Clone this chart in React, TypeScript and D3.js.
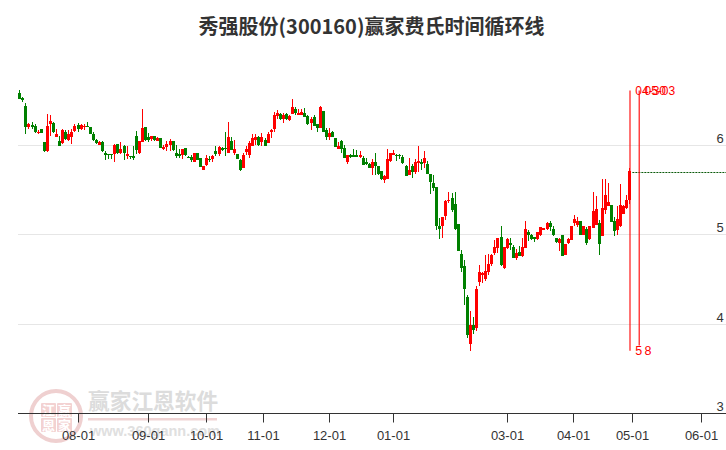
import * as d3 from "d3";

const W = 726;
const H = 450;

const TITLE = "秀强股份(300160)赢家费氏时间循环线";

const opens = [
  6.58, 6.53, 6.44, 6.2, 6.22, 6.21, 6.13, 6.18, 6.03, 5.93,
  6.24, 6.25, 6.09, 6.04, 6.02, 6.14, 6.06, 6.09, 6.16, 6.22,
  6.18, 6.2, 6.21, 6.2, 6.12, 6.06, 6.0, 6.03, 5.91, 5.9,
  5.9, 5.9, 6.01, 5.91, 5.99, 5.88, 5.88, 5.88, 6.1, 5.91,
  6.03, 6.2, 6.09, 6.07, 6.1, 6.05, 6.08, 5.96, 5.98, 6.0,
  6.04, 5.91, 5.9, 5.89, 5.97, 5.87, 5.87, 5.81, 5.91, 5.86,
  5.72, 5.78, 5.84, 5.84, 5.93, 5.9, 5.97, 5.97, 5.91, 6.05,
  5.91, 5.9, 5.83, 5.74, 5.92, 5.89, 5.99, 6.06, 6.09, 6.03,
  6.06, 6.02, 6.14, 6.18, 6.32, 6.35, 6.29, 6.35, 6.28, 6.35,
  6.4, 6.33, 6.33, 6.36, 6.32, 6.25, 6.31, 6.24, 6.19, 6.38,
  6.17, 6.09, 6.14, 6.08, 5.95, 6.04, 5.97, 5.81, 5.89, 5.89,
  5.89, 5.87, 5.86, 5.81, 5.79, 5.74, 5.81, 5.76, 5.71, 5.61,
  5.62, 5.82, 5.89, 5.89, 5.89, 5.87, 5.77, 5.66, 5.77, 5.7,
  5.8, 5.81, 5.8, 5.79, 5.68, 5.58, 5.53, 5.1, 5.1, 5.21,
  5.37, 5.41, 5.34, 5.12, 4.78, 4.65, 4.3, 3.78, 3.99, 3.96,
  4.47, 4.55, 4.5, 4.58, 4.67, 4.79, 4.85, 4.97, 4.63, 4.85,
  4.91, 4.86, 4.74, 4.81, 4.76, 4.85, 5.03, 5.0, 4.97, 4.95,
  4.99, 5.05, 5.06, 5.13, 5.06, 4.96, 4.91, 4.99, 4.77, 4.9,
  4.94, 5.13, 5.11, 5.15, 5.0, 5.06, 4.95, 5.07, 5.11, 5.13,
  4.98, 5.27, 5.32, 5.33, 5.15, 5.05, 5.09, 5.23, 5.3, 5.38,
];

const closes = [
  6.51, 6.5, 6.2, 6.23, 6.2, 6.14, 6.15, 6.13, 5.93, 6.21,
  6.27, 6.14, 6.12, 5.99, 6.17, 6.07, 6.12, 6.14, 6.21, 6.18,
  6.22, 6.21, 6.2, 6.12, 6.06, 6.02, 6.03, 5.93, 5.89, 5.89,
  5.89, 6.0, 5.91, 5.96, 5.91, 5.9, 5.87, 5.85, 5.94, 6.05,
  6.19, 6.06, 6.06, 6.1, 6.06, 6.08, 5.97, 5.98, 6.01, 6.04,
  5.94, 5.88, 5.88, 5.95, 5.89, 5.86, 5.83, 5.91, 5.83, 5.75,
  5.77, 5.86, 5.83, 5.88, 5.9, 5.98, 5.94, 5.96, 6.09, 5.94,
  5.96, 5.84, 5.72, 5.89, 5.95, 6.02, 6.08, 6.09, 6.0, 6.09,
  5.99, 6.12, 6.17, 6.34, 6.36, 6.29, 6.34, 6.29, 6.32, 6.42,
  6.36, 6.36, 6.37, 6.31, 6.23, 6.29, 6.21, 6.19, 6.43, 6.15,
  6.09, 6.13, 6.09, 5.98, 5.99, 5.95, 5.85, 5.89, 5.87, 5.87,
  5.87, 5.89, 5.78, 5.79, 5.74, 5.81, 5.76, 5.68, 5.62, 5.65,
  5.84, 5.91, 5.91, 5.88, 5.88, 5.8, 5.65, 5.72, 5.7, 5.81,
  5.82, 5.79, 5.85, 5.68, 5.59, 5.52, 5.1, 5.06, 5.19, 5.37,
  5.39, 5.27, 5.06, 4.82, 4.63, 4.39, 3.88, 3.99, 3.93, 4.39,
  4.58, 4.57, 4.59, 4.67, 4.77, 4.86, 4.96, 4.66, 4.86, 4.95,
  4.88, 4.74, 4.79, 4.76, 4.86, 5.06, 5.0, 4.95, 4.95, 5.03,
  5.08, 5.07, 5.13, 5.08, 4.99, 4.92, 4.95, 4.76, 4.89, 4.95,
  5.1, 5.17, 5.15, 5.0, 5.09, 4.91, 5.09, 5.26, 5.28, 4.89,
  5.3, 5.44, 5.36, 5.14, 5.04, 5.17, 5.33, 5.32, 5.38, 5.71,
];

const highs = [
  6.61, 6.54, 6.47, 6.25, 6.26, 6.24, 6.17, 6.18, 6.03, 6.35,
  6.33, 6.26, 6.18, 6.1, 6.18, 6.17, 6.17, 6.18, 6.24, 6.25,
  6.23, 6.24, 6.26, 6.2, 6.15, 6.07, 6.05, 6.04, 5.93, 5.9,
  5.9, 6.01, 6.01, 6.03, 6.0, 5.99, 5.88, 5.99, 6.16, 6.05,
  6.4, 6.2, 6.13, 6.1, 6.1, 6.09, 6.08, 6.0, 6.05, 6.07,
  6.04, 6.0, 5.96, 5.96, 5.97, 5.88, 5.89, 5.91, 5.91, 5.86,
  5.77, 5.89, 5.88, 5.89, 5.99, 5.99, 5.98, 6.14, 6.26, 6.09,
  6.06, 5.9, 5.84, 5.91, 5.99, 6.04, 6.12, 6.12, 6.1, 6.13,
  6.08, 6.14, 6.18, 6.37, 6.39, 6.36, 6.36, 6.36, 6.33, 6.51,
  6.42, 6.4, 6.4, 6.41, 6.34, 6.31, 6.34, 6.24, 6.44, 6.38,
  6.19, 6.19, 6.16, 6.08, 6.03, 6.06, 6.0, 5.89, 5.9, 5.96,
  5.94, 5.93, 5.88, 5.85, 5.8, 5.84, 5.91, 5.77, 5.71, 5.66,
  5.95, 5.91, 5.94, 5.9, 5.9, 5.89, 5.78, 5.85, 5.79, 5.84,
  5.99, 5.84, 5.93, 5.82, 5.68, 5.67, 5.53, 5.18, 5.2, 5.38,
  5.48, 5.46, 5.47, 5.12, 4.83, 4.71, 4.32, 4.15, 4.08, 4.42,
  4.66, 4.58, 4.77, 4.78, 4.78, 4.94, 4.96, 5.1, 4.86, 4.96,
  4.96, 4.88, 4.84, 4.87, 4.96, 5.15, 5.05, 5.01, 4.97, 5.03,
  5.08, 5.07, 5.14, 5.15, 5.09, 4.96, 4.96, 5.0, 4.89, 4.96,
  5.1, 5.22, 5.19, 5.15, 5.09, 5.08, 5.09, 5.47, 5.43, 5.16,
  5.62, 5.62, 5.58, 5.33, 5.2, 5.32, 5.56, 5.33, 5.44, 5.74,
];

const lows = [
  6.51, 6.48, 6.12, 6.18, 6.18, 6.13, 6.12, 6.13, 5.92, 5.92,
  6.1, 6.13, 6.09, 5.99, 6.01, 6.06, 6.05, 6.01, 6.15, 6.15,
  6.17, 6.17, 6.2, 6.12, 6.05, 6.01, 6.0, 5.92, 5.83, 5.84,
  5.84, 5.81, 5.9, 5.9, 5.83, 5.84, 5.84, 5.83, 5.9, 5.9,
  6.03, 6.04, 6.03, 6.04, 6.05, 6.04, 5.97, 5.94, 5.93, 5.93,
  5.93, 5.85, 5.85, 5.84, 5.88, 5.86, 5.81, 5.81, 5.83, 5.75,
  5.72, 5.77, 5.81, 5.81, 5.88, 5.88, 5.93, 5.88, 5.91, 5.94,
  5.89, 5.84, 5.71, 5.74, 5.89, 5.86, 5.99, 6.0, 5.99, 5.99,
  5.99, 6.02, 6.08, 6.14, 6.29, 6.28, 6.25, 6.28, 6.27, 6.35,
  6.34, 6.33, 6.33, 6.31, 6.22, 6.17, 6.21, 6.15, 6.19, 6.14,
  6.06, 6.06, 6.09, 5.98, 5.95, 5.91, 5.85, 5.79, 5.85, 5.87,
  5.87, 5.86, 5.78, 5.78, 5.74, 5.66, 5.67, 5.66, 5.61, 5.58,
  5.62, 5.81, 5.89, 5.82, 5.84, 5.79, 5.65, 5.66, 5.63, 5.68,
  5.7, 5.72, 5.74, 5.68, 5.45, 5.49, 5.05, 4.95, 4.96, 5.16,
  5.35, 5.25, 5.05, 4.82, 4.58, 4.21, 3.84, 3.7, 3.89, 3.92,
  4.43, 4.46, 4.48, 4.55, 4.65, 4.77, 4.79, 4.65, 4.61, 4.84,
  4.83, 4.74, 4.71, 4.76, 4.75, 4.85, 4.93, 4.94, 4.92, 4.94,
  4.98, 5.05, 5.05, 5.04, 4.98, 4.91, 4.82, 4.76, 4.77, 4.89,
  4.94, 5.1, 5.08, 5.0, 5.0, 4.88, 4.94, 5.07, 5.11, 4.77,
  4.98, 5.23, 5.32, 5.14, 4.98, 4.99, 5.08, 5.23, 5.28, 5.34,
];

const priceTicks = [3, 4, 5, 6];
const monthLabels = ["08-01", "09-01", "10-01", "11-01", "12-01", "01-01", "03-01", "04-01", "05-01", "06-01"];
// month starts fall between bars here, so some of these are half steps
const monthBars = [19, 42, 61, 79.5, 101, 122, 159, 180.5, 200, 222.5];

// the two cycle lines: bar index, date on top, day count at the bottom
const cycleBars = [199, 202];
const cycleDates = ["04-30", "05-03"];
const cycleCounts = ["5", "8"];
const cycleTop = 6.61;
const cycleBottoms = [3.7, 3.76];
const lastPrice = 5.7;

const RED = "#ff0000";
const GREEN = "#008000";
const AXIS = "#333333";
const FONT = "'Liberation Sans', Arial, sans-serif";
const CJK = "'Noto Sans CJK SC', sans-serif";

export default function App() {
  const x = d3.scaleLinear().domain([0, 199]).range([19.3, 629.3]);
  const y = d3.scaleLinear().domain([3, 6]).range([413.5, 145]);
  const px = (i: number) => Math.round(x(i));

  return (
    <svg
      width={W}
      height={H}
      style={{ position: "fixed", left: 0, top: 0, display: "block", background: "#fff" }}
    >
      <text x={371.5} y={33.5} textAnchor="middle" fontFamily={CJK} fontWeight={700} fontSize={20} fill="#333">
        {TITLE}
      </text>

      {/* watermark */}
      <g>
        <circle cx={56} cy={416} r={25} fill="none" stroke="#efd0d0" strokeWidth={4} />
        {[
          ["江", 41, 403],
          ["赢", 57, 403],
          ["恩", 41, 418],
          ["家", 57, 418],
        ].map(([c, tx, ty]) => (
          <g key={c as string}>
            <rect x={tx as number} y={ty as number} width={15} height={14} rx={1} fill="#f3d2d2" />
            <text
              x={(tx as number) + 7.5}
              y={(ty as number) + 12}
              textAnchor="middle"
              fontFamily={CJK}
              fontWeight={700}
              fontSize={13}
              fill="#fff"
            >
              {c}
            </text>
          </g>
        ))}
        <text x={88} y={409} fontFamily={CJK} fontWeight={700} fontSize={21.7} fill="#dcdcdc">
          赢家江恩软件
        </text>
        <rect x={88} y={418} width={129} height={2.5} fill="#f0d4d4" />
        <text x={90} y={436} fontFamily={FONT} fontWeight={700} fontSize={14.5} fill="#e0e0e0">
          www.360gann.com
        </text>
      </g>

      {priceTicks.slice(1).map((t) => (
        <line key={t} x1={18} x2={W} y1={Math.floor(y(t)) + 0.5} y2={Math.floor(y(t)) + 0.5} stroke="#e6e6e6" />
      ))}

      {opens.map((o, i) => {
        const c = closes[i];
        const color = c >= o ? RED : GREEN;
        const top = Math.round(y(Math.max(o, c)));
        const bot = Math.round(y(Math.min(o, c)));
        return (
          <g key={i} shapeRendering="crispEdges">
            <line x1={px(i) + 0.5} x2={px(i) + 0.5} y1={y(highs[i])} y2={y(lows[i])} stroke={color} />
            <rect x={px(i) - 1} y={top} width={3} height={Math.max(1, bot - top)} fill={color} />
          </g>
        );
      })}

      <line
        x1={x(200)}
        x2={W}
        y1={Math.round(y(lastPrice)) + 0.5}
        y2={Math.round(y(lastPrice)) + 0.5}
        stroke="#0a5a0a"
        strokeDasharray="2 1"
      />

      {cycleBars.map((b, i) => (
        <g key={b}>
          <line x1={x(b) + 0.7} x2={x(b) + 0.7} y1={y(cycleTop)} y2={y(cycleBottoms[i])} stroke={RED} strokeWidth={1.1} />
          <text x={x(b) + 6} y={94.5} fontFamily={FONT} fontSize={12} fill={RED}>
            {cycleDates[i]}
          </text>
          <text x={x(b) + 6} y={355} fontFamily={FONT} fontSize={12.5} fill={RED}>
            {cycleCounts[i]}
          </text>
        </g>
      ))}

      <line x1={18} x2={W} y1={413.5} y2={413.5} stroke={AXIS} />
      {monthBars.map((b, i) => (
        <g key={b}>
          <line x1={px(b) + 0.5} x2={px(b) + 0.5} y1={413} y2={422.5} stroke={AXIS} />
          <text x={px(b) + 0.5} y={440} textAnchor="middle" fontFamily={FONT} fontSize={13} fill={AXIS}>
            {monthLabels[i]}
          </text>
        </g>
      ))}

      {priceTicks.map((t) => (
        <text key={t} x={720} y={y(t) - 2.5} textAnchor="middle" fontFamily={FONT} fontSize={13} fill={AXIS}>
          {t}
        </text>
      ))}
    </svg>
  );
}
